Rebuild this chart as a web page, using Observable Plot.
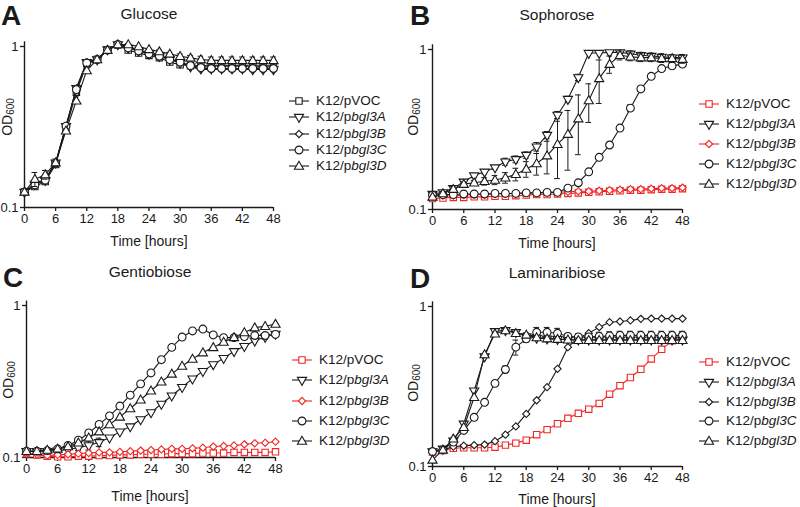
<!DOCTYPE html>
<html><head><meta charset="utf-8">
<script src="https://cdn.jsdelivr.net/npm/d3@7"></script>
<script src="https://cdn.jsdelivr.net/npm/@observablehq/plot@0.6"></script>
<style>
body{margin:0;background:#fff;}
#fig{position:relative;width:800px;height:507px;font-family:"Liberation Sans",Arial,sans-serif;color:#1a1a1a;overflow:hidden;background:#fff}
.abs{position:absolute;white-space:nowrap;line-height:1}
.c{transform:translate(-50%,-50%)}
.letter{font-weight:bold;font-size:28px;line-height:1}
.title{font-size:15.5px}
.xlab{font-size:14px}
.ylab{font-size:14px;transform:translate(-50%,-50%) rotate(-90deg)}
.ylab sub{font-size:10px;vertical-align:-2px}
.leg{font-size:13.5px;display:flex;align-items:center;transform:translateY(-50%)}
.leg svg{margin-right:6px;overflow:visible}
</style></head>
<body><div id="fig"></div>
<script>
// ---------------- data ----------------
const hours = [0,2,4,6,8,10,12,14,16,18,20,22,24,26,28,30,32,34,36,38,40,42,44,46,48];
const xTicks = [0,6,12,18,24,30,36,42,48];
const yTicks = [0.1, 1];
const yTickLabels = ["0.1", "1"];
const strainPrefix = "K12/p";
const strainSuffix = ["VOC", "bgl3A", "bgl3B", "bgl3C", "bgl3D"];
const strainItalic = [false, true, true, true, true];
const panelLetters = ["A", "B", "C", "D"];
const panelTitles = ["Glucose", "Sophorose", "Gentiobiose", "Laminaribiose"];
const xLabel = "Time [hours]";

// A: Glucose
const glcVOC = [.125,.135,.145,.185,.31,.52,.78,.83,.95,1.02,.95,.91,.88,.85,.80,.77,.76,.76,.76,.76,.76,.76,.76,.76,.76];
const glc3A  = [.125,.14,.148,.19,.32,.55,.80,.83,.96,1.03,.98,.94,.90,.87,.83,.79,.75,.73,.73,.73,.73,.73,.72,.72,.72];
const glc3B  = [.125,.14,.15,.19,.32,.55,.80,.83,.96,1.03,.99,.95,.91,.88,.84,.80,.75,.72,.72,.72,.72,.72,.72,.72,.72];
const glc3C  = [.125,.138,.148,.188,.32,.54,.79,.83,.95,1.03,.98,.94,.90,.87,.83,.80,.76,.74,.73,.73,.73,.73,.73,.73,.73];
const glc3D  = [.125,.15,.16,.19,.30,.46,.71,.83,.95,1.03,1.03,1.0,.96,.93,.90,.87,.85,.83,.82,.82,.82,.82,.82,.82,.82];
const glc3Derr = [0,.015,.01,.01,0,0,0,0,0,0,.01,.01,.01,.02,.02,.03,.03,.04,.04,.04,.04,.04,.04,.04,.04];

// B: Sophorose
const sopVOC = [.117,.118,.119,.119,.12,.12,.121,.121,.122,.123,.124,.124,.125,.126,.127,.128,.129,.13,.131,.132,.132,.133,.134,.134,.135];
const sop3A  = [.125,.128,.136,.149,.163,.172,.183,.199,.206,.219,.247,.292,.39,.49,.67,.95,.95,.96,.96,.94,.92,.91,.90,.89,.89];
const sop3B  = [.121,.122,.122,.123,.124,.124,.125,.126,.126,.127,.127,.128,.128,.129,.13,.13,.131,.132,.133,.134,.134,.135,.136,.136,.137];
const sop3C  = [.123,.124,.124,.125,.125,.125,.126,.126,.126,.127,.127,.128,.128,.136,.147,.172,.212,.253,.323,.43,.567,.68,.76,.79,.81];
const sop3D  = [.12,.126,.134,.144,.147,.15,.153,.158,.166,.179,.194,.217,.256,.296,.37,.48,.66,.81,.92,.90,.89,.89,.88,.88,.87];
const sop3Aerr = [0,0,.005,.005,.005,.005,.005,.01,.01,.01,.015,.015,.02,.02,.03,0,0,0,.03,.04,.04,.04,.04,.04,.04];
const sop3Derr = [0,0,.005,.005,.005,.008,.01,.012,.015,.02,.03,.05,.1,.12,.15,.13,.2,.1,.06,.05,.05,.05,.05,.05,.05];
const sop3Cerr = [0,0,0,0,0,0,0,0,0,0,0,0,0,0,0,0,0,0,0,.02,.02,.02,.02,.03,.03];

// C: Gentiobiose
const genVOC = [.106,.104,.102,.101,.101,.102,.102,.103,.103,.104,.104,.105,.105,.105,.106,.106,.106,.107,.107,.107,.108,.108,.108,.108,.109];
const gen3A  = [.11,.11,.11,.111,.113,.116,.12,.126,.135,.148,.16,.178,.198,.225,.255,.29,.33,.37,.41,.45,.50,.54,.586,.62,.65];
const gen3B  = [.106,.105,.103,.104,.105,.106,.107,.108,.108,.109,.11,.111,.112,.113,.114,.114,.115,.116,.118,.119,.12,.122,.124,.125,.127];
const gen3C  = [.11,.11,.111,.114,.12,.13,.145,.165,.188,.218,.257,.305,.36,.44,.53,.62,.68,.70,.64,.615,.615,.625,.635,.635,.645];
const gen3D  = [.11,.11,.112,.114,.118,.125,.135,.148,.165,.185,.21,.24,.275,.315,.355,.40,.445,.49,.53,.575,.617,.665,.715,.73,.755];
const gen3Aerr = [0,0,0,0,0,.005,.008,.008,0,0,0,0,0,0,0,0,0,0,0,0,0,0,0,.02,.02];

// D: Laminaribiose
const lamVOC = [.123,.126,.13,.131,.131,.131,.132,.136,.14,.146,.158,.17,.185,.2,.215,.228,.248,.283,.32,.36,.405,.47,.54,.61,.66];
const lam3A  = [.124,.129,.145,.185,.298,.487,.70,.71,.69,.65,.637,.63,.625,.62,.62,.62,.62,.62,.62,.62,.62,.62,.62,.62,.62];
const lam3B  = [.124,.127,.133,.135,.136,.137,.144,.158,.178,.213,.259,.313,.408,.557,.637,.681,.743,.798,.806,.818,.837,.84,.84,.84,.84];
const lam3C  = [.124,.127,.142,.168,.203,.252,.331,.404,.557,.628,.69,.69,.68,.65,.645,.645,.65,.655,.66,.66,.66,.66,.66,.66,.66];
const lam3D  = [.11,.127,.149,.176,.271,.501,.675,.708,.681,.665,.64,.63,.625,.62,.615,.615,.615,.615,.615,.615,.615,.615,.615,.615,.615];
const lam3Cerr = [0,0,0,0,0,0,0,.02,.06,.03,.05,.05,.05,.03,.03,.03,.04,.04,.04,.04,.04,.04,.04,.04,.04];
const lam3Derr = [0,0,0,0,0,0,.01,.02,.02,.02,.02,.02,.02,.02,.02,.02,.02,.02,.02,.02,.02,.02,.02,.02,.02];

// ---------------- symbols ----------------
const triDown = {draw(ctx, size){const y=Math.sqrt(size/(3*Math.sqrt(3)));ctx.moveTo(0,2*y);ctx.lineTo(-Math.sqrt(3)*y,-y);ctx.lineTo(Math.sqrt(3)*y,-y);ctx.closePath();}};
const triUp = {draw(ctx, size){const y=Math.sqrt(size/(3*Math.sqrt(3)));ctx.moveTo(0,-2*y+0.6);ctx.lineTo(-Math.sqrt(3)*y,y+0.6);ctx.lineTo(Math.sqrt(3)*y,y+0.6);ctx.closePath();}};
const diamond = {draw(ctx, size){const r=Math.sqrt(size)*0.6;ctx.moveTo(0,-r);ctx.lineTo(r,0);ctx.lineTo(0,r);ctx.lineTo(-r,0);ctx.closePath();}};
const square = {draw(ctx, size){const s=Math.sqrt(size)/2;ctx.rect(-s,-s,2*s,2*s);}};
const circle = {draw(ctx, size){const r=Math.sqrt(size/Math.PI);ctx.moveTo(r,0);ctx.arc(0,0,r,0,2*Math.PI);}};
const symbols = [square, triDown, diamond, circle, triUp];
const radii = [3.6, 3.4, 3.4, 3.9, 3.4];

const RED = "#f22424", BLK = "#1a1a1a";

const panels = [
  {L:0, T:0, W:290, H:250, x0:24, x48:273, y1:46, y01:207,
   values:[glcVOC,glc3A,glc3B,glc3C,glc3D], errs:[null,null,null,null,glc3Derr],
   colors:[BLK,BLK,BLK,BLK,BLK],
   letter:[1,2], title:[149,14], ylab:[8,117], xlab:[149,241],
   leg:{cx:299, tx:320, ys:[101,117,134,150,166]}},
  {L:400, T:0, W:290, H:250, x0:432, x48:682, y1:49, y01:209,
   values:[sopVOC,sop3A,sop3B,sop3C,sop3D], errs:[null,sop3Aerr,null,sop3Cerr,sop3Derr],
   colors:[RED,BLK,RED,BLK,BLK],
   letter:[410,2], title:[557,15], ylab:[414,117], xlab:[557,243],
   leg:{cx:709, tx:728, ys:[104,124,144,164,184]}},
  {L:0, T:255, W:290, H:252, x0:26, x48:275, y1:305, y01:457,
   values:[genVOC,gen3A,gen3B,gen3C,gen3D], errs:[null,gen3Aerr,null,null,null],
   colors:[RED,BLK,RED,BLK,BLK],
   letter:[3,264], title:[150,272], ylab:[9,380], xlab:[150,496],
   leg:{cx:302, tx:322, ys:[360,380,401,421,441]}},
  {L:400, T:255, W:290, H:252, x0:432, x48:682, y1:306, y01:466,
   values:[lamVOC,lam3A,lam3B,lam3C,lam3D], errs:[null,null,null,lam3Cerr,lam3Derr],
   colors:[RED,BLK,BLK,BLK,BLK],
   letter:[410,265], title:[557,273], ylab:[414,383], xlab:[557,499],
   leg:{cx:709, tx:728, ys:[362,382,402,421,441]}}
];

const fig = document.getElementById("fig");
function addText(cls, x, y, html){const d=document.createElement("div");d.className="abs "+cls;d.style.left=x+"px";d.style.top=y+"px";d.innerHTML=html;fig.appendChild(d);return d;}

const yTop = 1.07;
panels.forEach((p, pi) => {
  const dec = p.y01 - p.y1;
  const mt = p.y1 - dec*Math.log10(yTop) - p.T;
  const marks = [
    Plot.ruleY([0.1], {stroke: BLK, strokeWidth: 1.4}),
    Plot.ruleX([0], {stroke: BLK, strokeWidth: 1.4}),
    Plot.axisX({ticks: xTicks, tickSize: 4, tickPadding: 2, label: null, fontSize: 13, strokeWidth: 1.3}),
    Plot.axisY({ticks: yTicks, tickFormat: d => yTickLabels[yTicks.indexOf(d)], tickSize: 4, tickPadding: 2, label: null, fontSize: 13, strokeWidth: 1.3})
  ];
  p.values.forEach((vals, si) => {
    const col = p.colors[si];
    const err = p.errs[si];
    const rows = hours.map((t, i) => ({t, v: vals[i], e: err ? err[i] : 0}));
    const eb = rows.filter(d => d.e > 0);
    if (eb.length) {
      marks.push(Plot.ruleX(eb, {x: "t", y1: d => Math.max(0.1, d.v - d.e), y2: d => d.v + d.e, stroke: col, strokeWidth: 1}));
      marks.push(Plot.ruleY(eb, {y: d => d.v + d.e, x1: d => d.t - 0.55, x2: d => d.t + 0.55, stroke: col, strokeWidth: 1}));
      marks.push(Plot.ruleY(eb.filter(d => d.v - d.e > 0.1), {y: d => d.v - d.e, x1: d => d.t - 0.55, x2: d => d.t + 0.55, stroke: col, strokeWidth: 1}));
    }
    marks.push(Plot.line(rows, {x: "t", y: "v", stroke: col, strokeWidth: 1.1}));
    marks.push(Plot.dot(rows, {x: "t", y: "v", symbol: symbols[si], r: radii[si], stroke: col, fill: "white", strokeWidth: 1.1}));
  });
  const svg = Plot.plot({
    width: p.W, height: p.H,
    marginLeft: p.x0 - p.L, marginRight: p.L + p.W - p.x48,
    marginTop: mt, marginBottom: p.T + p.H - p.y01,
    x: {domain: [0, 48]},
    y: {type: "log", domain: [0.1, yTop]},
    style: {fontFamily: '"Liberation Sans", Arial, sans-serif', fontSize: "13px", color: BLK, background: "transparent", overflow: "visible"},
    marks
  });
  svg.style.position = "absolute";
  svg.style.left = p.L + "px";
  svg.style.top = p.T + "px";
  fig.appendChild(svg);

  addText("letter", p.letter[0], p.letter[1], panelLetters[pi]);
  addText("c title", p.title[0], p.title[1], panelTitles[pi]);
  addText("ylab", p.ylab[0], p.ylab[1], "OD<sub>600</sub>");
  addText("c xlab", p.xlab[0], p.xlab[1], xLabel);

  // legend
  strainSuffix.forEach((suf, si) => {
    const col = p.colors[si];
    const size = Math.PI * radii[si] * radii[si];
    const path = d3.symbol(symbols[si], size)();
    const html = `<svg width="22" height="14" viewBox="-11 -7 22 14"><line x1="-10" x2="10" y1="0" y2="0" stroke="${col}" stroke-width="1.1"/><path d="${path}" fill="white" stroke="${col}" stroke-width="1.1"/></svg><span>${strainPrefix}${strainItalic[si] ? "<i>" + suf + "</i>" : suf}</span>`;
    addText("leg", p.leg.cx - 11, p.leg.ys[si], html);
  });
});
</script></body></html>
